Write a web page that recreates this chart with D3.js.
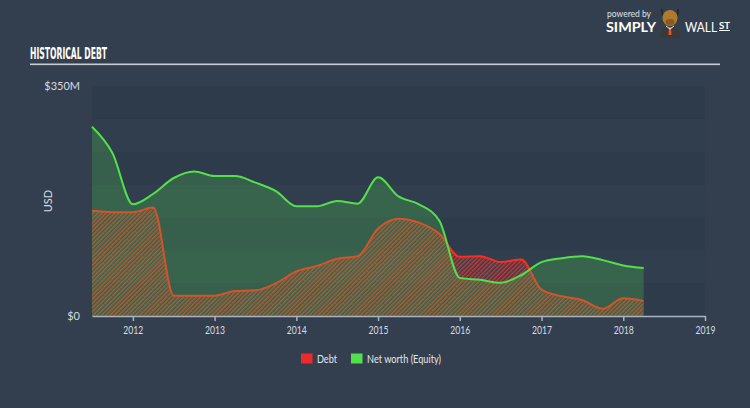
<!DOCTYPE html>
<html><head><meta charset="utf-8">
<script src="https://cdn.jsdelivr.net/npm/d3@7/dist/d3.min.js"></script>
<style>
html,body{margin:0;padding:0;background:#333f4f;}
svg{display:block;}
</style></head>
<body>
<svg id="chart" width="750" height="408"></svg>
<script>
// ---- data ----
const dates = [2011.5,2011.75,2012.0,2012.25,2012.5,2012.75,2013.0,2013.25,2013.5,2013.75,
  2014.0,2014.25,2014.5,2014.75,2015.0,2015.25,2015.5,2015.75,2016.0,2016.25,2016.5,2016.75,
  2017.0,2017.25,2017.5,2017.75,2018.0,2018.25];
const debt = [160,158,158,165,31,31,31,38,39,50,68,76,87,91,133,148,142,125,90,91,82,86,40,30,24,11,27,23];
const equity = [288,248,170,186,210,220,213,213,203,190,167,167,175,171,211,182,170,145,58,55,50.5,62,82,88,91,85,77,73];
const xTicks = [2012,2013,2014,2015,2016,2017,2018,2019];
const yTickLabels = ["$0","$350M"];
const yTickValues = [0,350];
const legendItems = ["Debt","Net worth (Equity)"];

const svg = d3.select("#chart");
const W = 750, H = 408;
const m = {left:92, right:45, top:86, bottom:92};
const x = d3.scaleLinear().domain([2011.5,2019]).range([m.left, W-m.right]);
const y = d3.scaleLinear().domain([0,350]).range([H-m.bottom, m.top]);

const defs = svg.append("defs");
const pat = defs.append("pattern").attr("id","hatch").attr("patternUnits","userSpaceOnUse")
  .attr("width",3).attr("height",3).attr("patternTransform","rotate(45)");
pat.append("rect").attr("x",0).attr("y",0).attr("width",1.5).attr("height",3).attr("fill","#f03a2e").attr("opacity",0.75);

// background
svg.append("rect").attr("width",W).attr("height",H).attr("fill","#333f4f");

// bands
const bandVals = d3.range(0,350,50);
svg.append("g").selectAll("rect").data(bandVals).join("rect")
  .attr("x",x(2011.5)).attr("width",x(2019)-x(2011.5))
  .attr("y",d=>y(d+50)).attr("height",d=>y(d)-y(d+50))
  .attr("fill",(d,i)=> i%2===0 ? "#2e3b4b" : "#313e4e");

// title
svg.append("text").attr("x",30).attr("y",58.5).text("HISTORICAL DEBT")
  .attr("fill","#ffffff").attr("font-family","'Liberation Sans Narrow','DejaVu Sans Condensed',sans-serif")
  .attr("font-weight","bold").attr("font-size",15).attr("textLength",77).attr("lengthAdjust","spacingAndGlyphs");
svg.append("rect").attr("x",30).attr("y",63.5).attr("width",690).attr("height",1.6).attr("fill","#c5ced6");

// logo
const lg = svg.append("g").attr("font-family","Lato, 'Open Sans', sans-serif").attr("fill","#ffffff");
lg.append("text").attr("x",607).attr("y",17).attr("font-size",8.5).attr("fill","#dfe3e8").text("powered by");
lg.append("text").attr("x",606).attr("y",31.5).attr("font-size",12.5).attr("font-weight","bold")
  .attr("textLength",50).attr("lengthAdjust","spacingAndGlyphs").text("SIMPLY");
lg.append("text").attr("x",685).attr("y",31.5).attr("font-size",12.5).attr("font-weight","normal")
  .attr("textLength",32).attr("lengthAdjust","spacingAndGlyphs").text("WALL");
lg.append("text").attr("x",719).attr("y",29).attr("font-size",9).attr("font-weight","bold")
  .attr("textLength",11).attr("lengthAdjust","spacingAndGlyphs").text("ST");
lg.append("rect").attr("x",719).attr("y",30).attr("width",11).attr("height",1).attr("fill","#fff");
// bull icon
const bull = svg.append("g");
bull.append("path").attr("d","M659,38 Q661,27 670,25 Q679,27 681,38 Z").attr("fill","#3a3a3a");
bull.append("path").attr("d","M662,9 Q661,15 665,17 M678,9 Q679,15 675,17").attr("stroke","#2a2a2a").attr("stroke-width",2).attr("fill","none");
bull.append("ellipse").attr("cx",670).attr("cy",18).attr("rx",7.5).attr("ry",8).attr("fill","#b07a2e");
bull.append("ellipse").attr("cx",670).attr("cy",22).attr("rx",4.5).attr("ry",3).attr("fill","#8a5a22");
bull.append("path").attr("d","M669,27 L671,27 L671.5,35 L668.5,35 Z").attr("fill","#e8552a");
bull.append("path").attr("d","M666,26 L670,29 L674,26").attr("stroke","#eee").attr("stroke-width",1).attr("fill","none");

// areas
const area = vals => d3.area().x((d,i)=>x(dates[i])).y0(y(0)).y1((d)=>y(d)).curve(d3.curveMonotoneX)(vals);
const line = vals => d3.line().x((d,i)=>x(dates[i])).y(d=>y(d)).curve(d3.curveMonotoneX)(vals);

svg.append("path").attr("d",area(debt)).attr("fill","url(#hatch)");
svg.append("path").attr("d",line(debt)).attr("fill","none").attr("stroke","#ff2a22").attr("stroke-width",2);
svg.append("path").attr("d",area(equity)).attr("fill","#4fd84a").attr("fill-opacity",0.24);
svg.append("path").attr("d",line(equity)).attr("fill","none").attr("stroke","#52e14a").attr("stroke-width",2);

// x axis
const xa = svg.append("g").attr("transform",`translate(0,${y(0)})`)
  .call(d3.axisBottom(x).tickValues(xTicks).tickFormat(d3.format("d")).tickSize(5).tickSizeOuter(0));
xa.select(".domain").attr("stroke","#a9b3bd").attr("stroke-width",1.5);
xa.selectAll(".tick line").attr("stroke","#a9b3bd").attr("stroke-width",1.5);
xa.selectAll(".tick text").attr("fill","#d6dbe0").attr("font-size",11).attr("font-family","Lato, sans-serif")
  .attr("dy","0.9em").attr("textLength",20).attr("lengthAdjust","spacingAndGlyphs");

// y labels
svg.append("g").selectAll("text").data(yTickValues).join("text")
  .attr("x",80).attr("y",d=>y(d)+4).attr("text-anchor","end")
  .attr("fill","#d6dbe0").attr("font-size",11).attr("font-family","Lato, sans-serif")
  .text((d,i)=>yTickLabels[i]);
svg.append("text").attr("transform",`translate(52,${(y(0)+y(350))/2}) rotate(-90)`)
  .attr("text-anchor","middle").attr("fill","#d6dbe0").attr("font-size",11).attr("font-family","Lato, sans-serif").text("USD");

// legend
const legColors = ["#ee2a2a","#4fe04a"];
const lx = [301,351];
const legLen = [20,74];
const leg = svg.append("g").selectAll("g").data(legendItems).join("g")
  .attr("transform",(d,i)=>`translate(${lx[i]},353.5)`);
leg.append("rect").attr("width",11.5).attr("height",10).attr("fill",(d,i)=>legColors[i]);
leg.append("text").attr("x",16).attr("y",9.5).attr("fill","#e3e7eb").attr("font-size",12)
  .attr("font-family","Lato, sans-serif").attr("textLength",(d,i)=>legLen[i]).attr("lengthAdjust","spacingAndGlyphs").text(d=>d);
</script>
</body></html>
